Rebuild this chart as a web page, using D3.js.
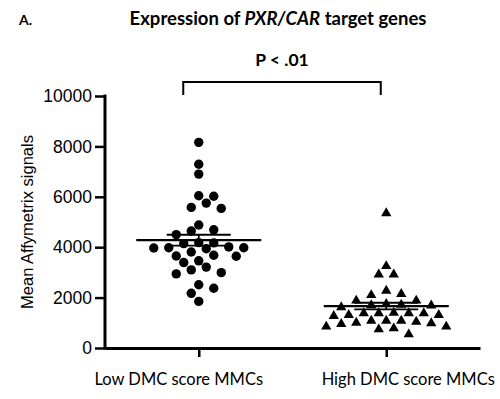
<!DOCTYPE html>
<html>
<head>
<meta charset="utf-8">
<script src="https://cdn.jsdelivr.net/npm/d3@7"></script>
<style>
    body { margin: 0; background: #fff; }
    svg { display: block; }
</style>
</head>
<body>
<div id="chart"></div>
<script>
// categories and values
const groups = ["Low DMC score MMCs", "High DMC score MMCs"];

const lowValues = [8160, 7290, 6900, 6020, 6040, 5580, 5540, 5750, 4880, 4690,
    4640, 4500, 4170, 4140, 4010, 3980, 3940, 4180, 3810, 3970,
    3980, 3680, 3640, 3650, 3460, 3390, 3210, 3100, 2940, 2990,
    2370, 2510, 2170, 1850];

const highValues = [5350, 3250, 2920, 2920, 2270, 2100, 2140, 1880, 1880, 1750,
    1620, 1700, 1690, 1720, 1380, 1380, 1310, 1270, 1380, 1310,
    1380, 1400, 1000, 1080, 1080, 1080, 980, 950, 1040, 850,
    780, 740, 850, 540];

// mean and SEM bars as drawn in the figure
const means = [4280, 1665];
const sems = [215, 130];

const yTicks = [0, 2000, 4000, 6000, 8000, 10000];

const width = 500, height = 399;
const margin = { top: 96, right: 20, bottom: 51, left: 105 };

const svg = d3.select("#chart")
    .append("svg")
    .attr("width", width)
    .attr("height", height);

// scales
const x = d3.scalePoint()
    .domain(groups)
    .range([margin.left, width - margin.right])
    .padding(0.5);

const y = d3.scaleLinear()
    .domain([0, 10000])
    .range([height - margin.bottom, margin.top]);

// places points side by side when they would overlap (like prism's scatter)
function dodge(values, cx, r, step) {
    const pts = values.map(v => ({ v: v, y: y(v) }))
        .sort((a, b) => b.v - a.v);
    const placed = [];
    pts.forEach(p => {
        for (let k = 0; k < 40; k++) {
            const cands = k === 0 ? [0] : [k, -k];
            let found = false;
            for (const c of cands) {
                const px = cx + c * step;
                const hit = placed.some(q =>
                    (q.x - px) ** 2 + (q.y - p.y) ** 2 < (2 * r) ** 2 - 0.01);
                if (!hit) { p.x = px; found = true; break; }
            }
            if (found) break;
        }
        placed.push(p);
    });
    return placed;
}

// y axis
svg.append("g")
    .attr("class", "y-axis")
    .attr("transform", "translate(" + margin.left + ",0)")
    .call(d3.axisLeft(y).tickValues(yTicks).tickFormat(d3.format("d"))
        .tickSize(10).tickSizeOuter(0).tickPadding(3))
    .call(g => g.select(".domain").attr("stroke-width", 3).attr("d",
        "M0," + (y(10000) - 1.5) + "V" + (y(0) + 1.5)))
    .call(g => g.selectAll(".tick line").attr("stroke-width", 2.5))
    .call(g => g.selectAll(".tick text")
        .attr("font-family", "'Liberation Sans', Arial, sans-serif")
        .attr("font-size", "17.5px")
        .attr("fill", "#000"));

// x axis
svg.append("g")
    .attr("class", "x-axis")
    .attr("transform", "translate(0," + y(0) + ")")
    .call(d3.axisBottom(x).tickSize(9).tickSizeOuter(0).tickFormat(""))
    .call(g => g.select(".domain").attr("stroke-width", 3))
    .call(g => g.selectAll(".tick line").attr("stroke-width", 2.5));

// category labels
svg.append("g")
    .selectAll("text")
    .data(groups)
    .join("text")
    .attr("x", (d, i) => x(d) + (i === 0 ? -20 : 22))
    .attr("y", 385)
    .attr("text-anchor", "middle")
    .attr("font-family", "Lato, 'Open Sans', sans-serif")
    .attr("font-size", "16.5px")
    .attr("fill", "#000")
    .text(d => d);

// y axis label
svg.append("text")
    .attr("transform", "translate(33," + (y(0) + y(10000)) / 2 + ") rotate(-90)")
    .attr("text-anchor", "middle")
    .attr("font-family", "'Liberation Sans', Arial, sans-serif")
    .attr("font-size", "16.5px")
    .attr("fill", "#000")
    .text("Mean Affymetrix signals");

// points
const lowPts = dodge(lowValues, x(groups[0]), 4.7, 7.5);
const highPts = dodge(highValues, x(groups[1]), 5, 7.5);

svg.append("g")
    .selectAll("circle")
    .data(lowPts)
    .join("circle")
    .attr("cx", d => d.x)
    .attr("cy", d => d.y)
    .attr("r", 4.7)
    .attr("fill", "#000");

const tri = d3.symbol().type(d3.symbolTriangle).size(46);
svg.append("g")
    .selectAll("path")
    .data(highPts)
    .join("path")
    .attr("transform", d => "translate(" + d.x + "," + d.y + ")")
    .attr("d", tri)
    .attr("fill", "#000");

// mean and sem bars
const bars = svg.append("g")
    .attr("stroke", "#000")
    .attr("fill", "none");

groups.forEach((g, i) => {
    const cx = x(g);
    bars.append("line")
        .attr("x1", cx - 62.5).attr("x2", cx + 62.5)
        .attr("y1", y(means[i])).attr("y2", y(means[i]))
        .attr("stroke-width", 2.2);
    [means[i] - sems[i], means[i] + sems[i]].forEach(v => {
        bars.append("line")
            .attr("x1", cx - 32).attr("x2", cx + 32)
            .attr("y1", y(v)).attr("y2", y(v))
            .attr("stroke-width", 1.8);
    });
    bars.append("line")
        .attr("x1", cx).attr("x2", cx)
        .attr("y1", y(means[i] - sems[i])).attr("y2", y(means[i] + sems[i]))
        .attr("stroke-width", 1.8);
});

// significance bracket
const bx0 = x(groups[0]) - 15.5, bx1 = x(groups[1]) - 5.5;
svg.append("path")
    .attr("d", "M" + bx0 + ",95V82H" + bx1 + "V95")
    .attr("fill", "none")
    .attr("stroke", "#000")
    .attr("stroke-width", 2);

svg.append("text")
    .attr("x", (bx0 + bx1) / 2)
    .attr("y", 66)
    .attr("text-anchor", "middle")
    .attr("font-family", "Lato, 'Open Sans', sans-serif")
    .attr("font-weight", "bold")
    .attr("font-size", "17.5px")
    .attr("fill", "#000")
    .text("P < .01");

// title
const title = svg.append("text")
    .attr("x", 278)
    .attr("y", 25)
    .attr("text-anchor", "middle")
    .attr("font-family", "Lato, 'Open Sans', sans-serif")
    .attr("font-weight", "bold")
    .attr("font-size", "18.5px")
    .attr("fill", "#000");
title.append("tspan").text("Expression of ");
title.append("tspan").attr("font-style", "italic").text("PXR/CAR");
title.append("tspan").text(" target genes");

svg.append("text")
    .attr("x", 19)
    .attr("y", 25)
    .attr("font-family", "Lato, 'Open Sans', sans-serif")
    .attr("font-weight", "bold")
    .attr("font-size", "14px")
    .attr("fill", "#000")
    .text("A.");
</script>
</body>
</html>
